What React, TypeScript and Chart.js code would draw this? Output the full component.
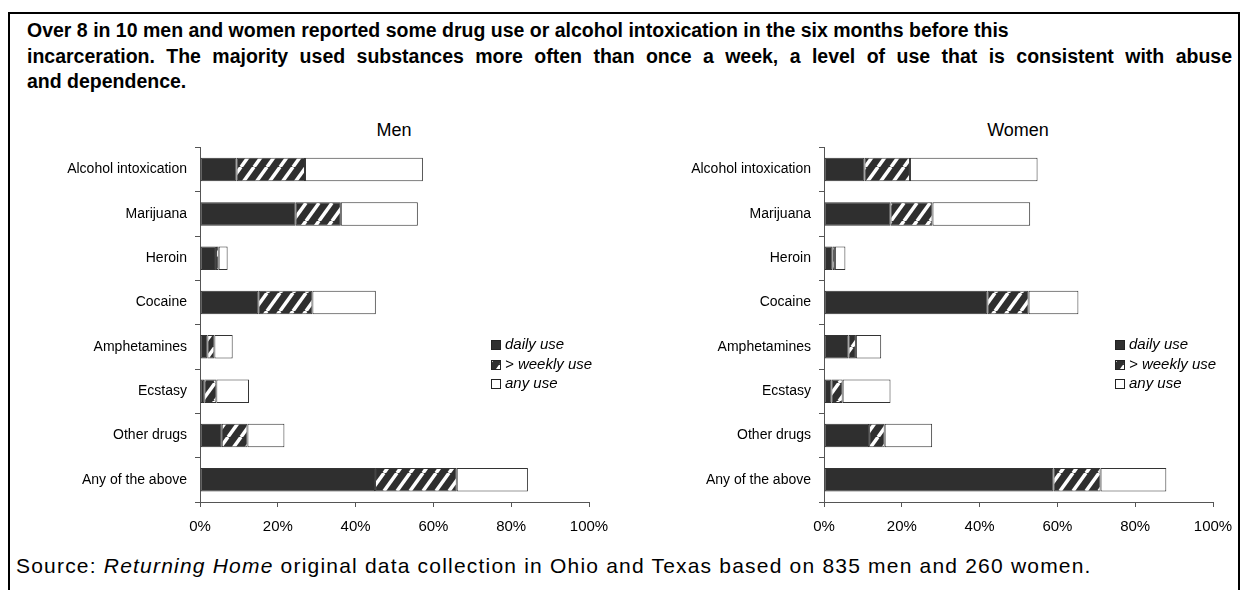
import React, { useEffect, useRef } from "react";
import { Chart, registerables } from "chart.js";

Chart.register(...registerables);

// ---------- data (percent of respondents) ----------
const categories = [
  "Alcohol intoxication",
  "Marijuana",
  "Heroin",
  "Cocaine",
  "Amphetamines",
  "Ecstasy",
  "Other drugs",
  "Any of the above",
];
// cumulative shares: daily, more than weekly (incl. daily), any use
const menDaily = [9.4, 24.6, 4.1, 15.0, 1.9, 1.1, 5.6, 45.0];
const menWeekly = [27.0, 36.2, 4.8, 28.9, 3.7, 4.2, 12.2, 66.0];
const menAny = [57.3, 56.0, 7.1, 45.2, 8.4, 12.6, 21.7, 84.3];
const womenDaily = [10.4, 17.1, 2.2, 42.0, 6.3, 1.9, 11.6, 59.0];
const womenWeekly = [22.1, 27.9, 2.8, 52.6, 8.2, 4.8, 15.6, 71.1];
const womenAny = [54.9, 53.0, 5.5, 65.4, 14.7, 17.1, 27.8, 88.0];
const xTicks = [0, 20, 40, 60, 80, 100];
const legendLabels = ["daily use", "> weekly use", "any use"];

const TITLE_LINES = [
  "Over 8 in 10 men and women reported some drug use or alcohol intoxication in the six months before this",
  "incarceration.  The majority used substances more often than once a week, a level of use that is consistent with abuse",
  "and dependence.",
];

const FONT = "'Liberation Sans', Arial, Helvetica, sans-serif";
const DARK = "#2f2f2f";

function makeHatch(): CanvasPattern | string {
  const w = 13;
  const h = 18;
  const c = document.createElement("canvas");
  c.width = w;
  c.height = h;
  const g = c.getContext("2d");
  if (!g) return DARK;
  g.fillStyle = DARK;
  g.fillRect(0, 0, w, h);
  g.strokeStyle = "#ffffff";
  g.lineWidth = 3.5;
  for (let o = -w; o <= w; o += w) {
    g.beginPath();
    g.moveTo(o, h);
    g.lineTo(o + w, 0);
    g.stroke();
  }
  return g.createPattern(c, "repeat") || DARK;
}

function makeLegendPlugin(fills: (string | CanvasPattern)[]) {
  return {
    id: "customLegend",
    afterDraw(chart: any) {
      const { ctx, chartArea } = chart;
      const x = chartArea.right - 98;
      const rows = [198, 217.5, 237];
      ctx.save();
      ctx.font = `italic 15px ${FONT}`;
      ctx.textBaseline = "middle";
      legendLabels.forEach((lab, i) => {
        const y = Math.round(chartArea.top + rows[i]);
        ctx.fillStyle = fills[i];
        ctx.fillRect(x, y - 5, 9, 9);
        ctx.strokeStyle = "#222";
        ctx.lineWidth = 1;
        ctx.strokeRect(x + 0.5, y - 4.5, 9, 9);
        ctx.fillStyle = "#000";
        ctx.fillText(lab, x + 14, y);
      });
      ctx.restore();
    },
  };
}

function Panel({ daily, weekly, any }: { daily: number[]; weekly: number[]; any: number[] }) {
  const ref = useRef<HTMLCanvasElement>(null);
  useEffect(() => {
    if (!ref.current) return;
    const hatch = makeHatch();
    const seg1 = daily;
    const seg2 = weekly.map((v, i) => v - daily[i]);
    const seg3 = any.map((v, i) => v - weekly[i]);
    const common = {
      borderColor: "#333",
      borderWidth: 1,
      borderSkipped: false as const,
      barPercentage: 0.53,
      categoryPercentage: 1,
    };
    const chart = new Chart(ref.current, {
      type: "bar",
      data: {
        labels: categories,
        datasets: [
          { label: legendLabels[0], data: seg1, backgroundColor: DARK, ...common },
          { label: legendLabels[1], data: seg2, backgroundColor: hatch as any, ...common },
          { label: legendLabels[2], data: seg3, backgroundColor: "#ffffff", ...common },
        ],
      },
      options: {
        indexAxis: "y",
        responsive: false,
        animation: false,
        devicePixelRatio: 1,
        layout: { padding: { top: 0, right: 31, left: 0, bottom: 0 } },
        plugins: { legend: { display: false }, tooltip: { enabled: false }, title: { display: false } },
        scales: {
          y: {
            type: "category",
            stacked: true,
            offset: true,
            grid: {
              display: true,
              offset: true,
              drawOnChartArea: false,
              drawTicks: true,
              tickLength: 5,
              color: "#555",
            },
            border: { display: true, color: "#555", width: 1 },
            ticks: { color: "#000", font: { family: FONT, size: 14 }, padding: 8 },
            afterFit(scale: any) {
              scale.width = 180;
            },
          },
          x: {
            type: "linear",
            stacked: true,
            min: 0,
            max: 100,
            grid: { drawOnChartArea: false, drawTicks: true, tickLength: 5, color: "#555" },
            border: { display: true, color: "#555", width: 1 },
            ticks: {
              color: "#000",
              font: { family: FONT, size: 15 },
              padding: 11,
              maxRotation: 0,
              callback: (v: any) => `${v}%`,
            },
            afterBuildTicks(scale: any) {
              scale.ticks = xTicks.map((v) => ({ value: v }));
            },
            afterFit(scale: any) {
              scale.height = 49;
            },
          },
        },
      },
      plugins: [makeLegendPlugin([DARK, hatch, "#ffffff"])],
    });
    return () => chart.destroy();
  }, [daily, weekly, any]);
  return <canvas ref={ref} width={600} height={420} style={{ width: 600, height: 420, display: "block" }} />;
}

export default function App() {
  const lineStyle = { height: 25.5, whiteSpace: "nowrap" as const };
  return (
    <div
      style={{
        position: "fixed",
        left: 0,
        top: 0,
        width: 1248,
        height: 590,
        overflow: "hidden",
        background: "#fff",
        fontFamily: FONT,
      }}
    >
      <div
        style={{
          position: "absolute",
          left: 8,
          top: 12,
          width: 1228,
          height: 700,
          border: "2px solid #000",
        }}
      />
      <div
        style={{
          position: "absolute",
          left: 27,
          top: 18,
          width: 1205,
          fontWeight: "bold",
          fontSize: 19.5,
          lineHeight: "25.5px",
          color: "#000",
        }}
      >
        <div style={lineStyle}>{TITLE_LINES[0]}</div>
        <div style={{ height: 25.5, textAlign: "justify", textAlignLast: "justify" as any }}>{TITLE_LINES[1]}</div>
        <div style={lineStyle}>{TITLE_LINES[2]}</div>
      </div>
      <div style={{ position: "absolute", left: 294, width: 200, top: 120, textAlign: "center", fontSize: 18 }}>Men</div>
      <div style={{ position: "absolute", left: 918, width: 200, top: 120, textAlign: "center", fontSize: 18 }}>Women</div>
      <div style={{ position: "absolute", left: 20, top: 131 }}>
        <Panel daily={menDaily} weekly={menWeekly} any={menAny} />
      </div>
      <div style={{ position: "absolute", left: 644, top: 131 }}>
        <Panel daily={womenDaily} weekly={womenWeekly} any={womenAny} />
      </div>
      <div
        style={{
          position: "absolute",
          left: 16,
          top: 554,
          fontSize: 21,
          letterSpacing: "1.2px",
          whiteSpace: "nowrap",
        }}
      >
        Source: <i>Returning Home</i> original data collection in Ohio and Texas based on 835 men and 260 women.
      </div>
    </div>
  );
}
